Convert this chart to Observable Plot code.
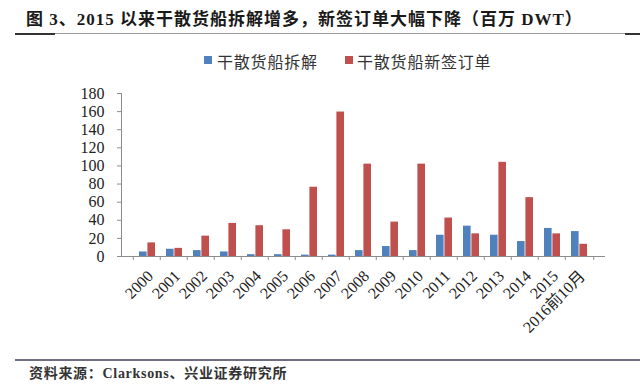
<!DOCTYPE html>
<html>
<head>
<meta charset="utf-8">
<script src="https://cdn.jsdelivr.net/npm/d3@7"></script>
<script src="https://cdn.jsdelivr.net/npm/@observablehq/plot@0.6"></script>
<style>
  html, body { margin: 0; padding: 0; background: #fff; }
  #wrap { position: relative; width: 640px; height: 387px; overflow: hidden; background: #fff;
          font-family: "Liberation Serif", "Noto Sans CJK SC", serif; color: #222; }
  #title { position: absolute; left: 26px; top: 5px; font-size: 17px; font-weight: bold; white-space: nowrap; letter-spacing: 1.0px; color: #1a1a1a; }
  #tline { position: absolute; left: 15px; right: 0; top: 33px; height: 1px; background: #9a9a9a; }
  #tline1 { position: absolute; left: 15px; width: 40px; top: 33px; height: 2px; background: #333; }
  #tline2 { position: absolute; right: 0; width: 15px; top: 33px; height: 2px; background: #333; }
  #legend { position: absolute; top: 49px; left: 0; width: 640px; font-size: 16px; font-family: "Noto Sans CJK SC", sans-serif; color: #333; letter-spacing: 0.8px; }
  .sw { position: absolute; width: 8px; height: 8px; top: 7px; }
  .lt { position: absolute; top: 0; white-space: nowrap; }
  #chart { position: absolute; left: 0; top: 80px; }
  #bline { position: absolute; left: 15px; right: 0; top: 359px; height: 2px; background: #6e6e80; }
  #caption { position: absolute; left: 29px; top: 362px; font-size: 14px; font-weight: bold; white-space: nowrap; color: #333; letter-spacing: 0.7px; }
</style>
</head>
<body>
<div id="wrap">
  <div id="title">图 3、2015 以来干散货船拆解增多，新签订单大幅下降（百万 DWT）</div>
  <div id="tline"></div><div id="tline1"></div><div id="tline2"></div>
  <div id="legend"></div>
  <div id="chart"></div>
  <div id="bline"></div>
  <div id="caption">资料来源：Clarksons、兴业证券研究所</div>
</div>
<script>
const years = ["2000","2001","2002","2003","2004","2005","2006","2007","2008","2009","2010","2011","2012","2013","2014","2015","2016前10月"];
const scrapping = [5, 8, 6.5, 5, 2, 2, 1.5, 1.5, 6.5, 11, 6.5, 23.5, 33.5, 23.5, 16.5, 31, 27.5];
const orders = [15, 9, 22.5, 36.5, 34, 29.5, 76.5, 159.5, 102, 38, 102, 42.5, 25, 104, 65, 25, 13.5];
const seriesNames = ["干散货船拆解", "干散货船新签订单"];
const seriesColors = ["#4f81bd", "#c0504d"];
const yTicks = [0, 20, 40, 60, 80, 100, 120, 140, 160, 180];

const rows = years.map((y, i) => ({year: y, a: scrapping[i], b: orders[i]}));

// legend
const legend = document.getElementById("legend");
const legendPos = [[204, 217], [345, 357]];
seriesNames.forEach((n, i) => {
  const s = document.createElement("div");
  s.className = "sw"; s.style.left = legendPos[i][0] + "px"; s.style.background = seriesColors[i];
  const t = document.createElement("div");
  t.className = "lt"; t.style.left = legendPos[i][1] + "px"; t.textContent = n;
  legend.appendChild(s); legend.appendChild(t);
});

const W = 640, H = 280, mL = 121, mR = 35;
const step = (W - mL - mR) / years.length;
const half = step * (1 - 0.41) / 2;

const chart = Plot.plot({
  width: W, height: H,
  marginLeft: mL, marginRight: mR, marginTop: 13, marginBottom: 104,
  style: {fontFamily: "'Liberation Serif', 'Noto Sans CJK SC', serif", fontSize: "16px", color: "#222", background: "transparent"},
  x: {domain: years, padding: 0.41, align: 0.5},
  y: {domain: [0, 180]},
  marks: [
    Plot.frame({anchor: "left", stroke: "#8c8c8c"}),
    Plot.barY(rows, {x: "year", y: "a", fill: seriesColors[0], insetRight: half}),
    Plot.barY(rows, {x: "year", y: "b", fill: seriesColors[1], insetLeft: half}),
    Plot.ruleY([0], {stroke: "#8c8c8c"}),
    Plot.ruleX(years, {x: d => d, y1: 0, y2: -4.5, dx: -step / 2, stroke: "#8c8c8c"}),
    Plot.ruleX([years[years.length - 1]], {x: d => d, y1: 0, y2: -4.5, dx: step / 2, stroke: "#8c8c8c"}),
    Plot.axisY({ticks: yTicks, tickSize: 4, tickPadding: 13, label: null, stroke: "#8c8c8c", fill: "#222"}),
    Plot.axisX({tickRotate: -45, tickSize: 0, tickPadding: 17, dx: 3, label: null, fill: "#222", fontSize: 16})
  ]
});
document.getElementById("chart").appendChild(chart);
</script>
</body>
</html>
